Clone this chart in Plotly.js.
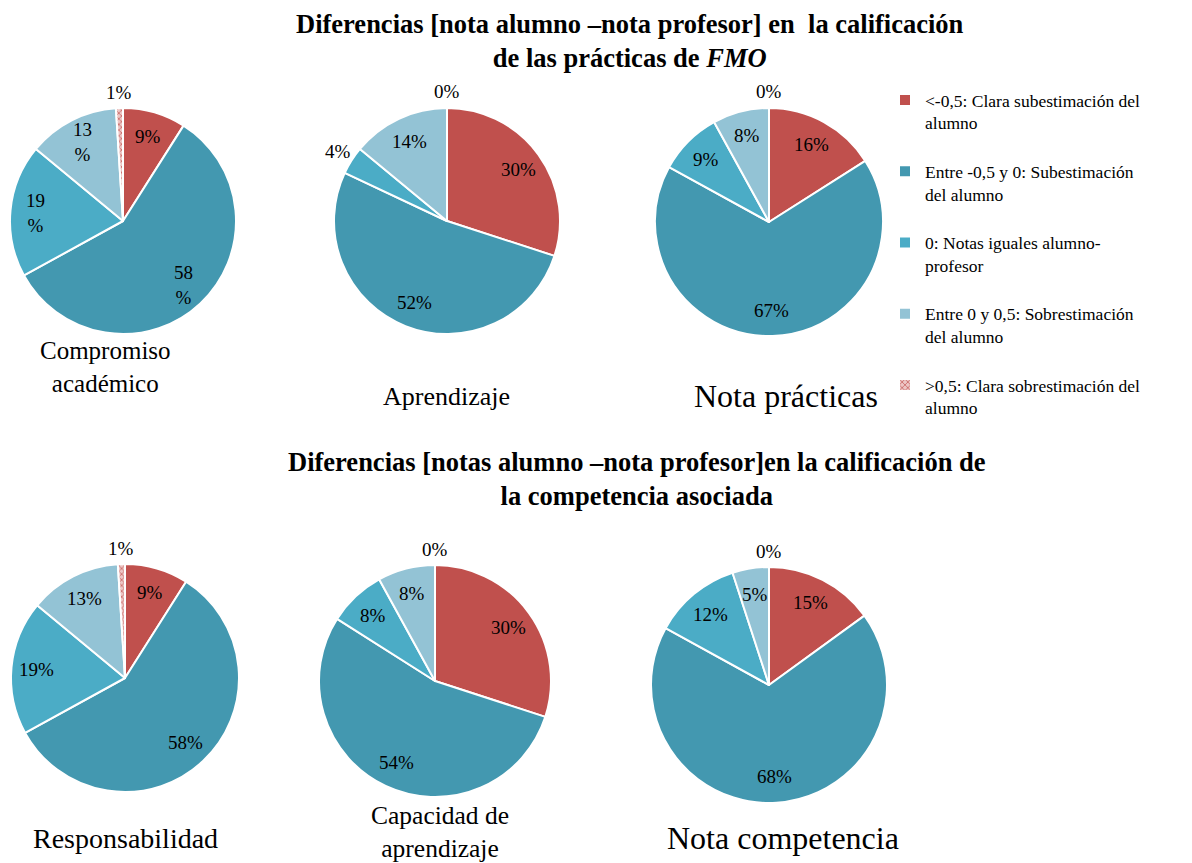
<!DOCTYPE html>
<html>
<head>
<meta charset="utf-8">
<script src="https://cdn.plot.ly/plotly-3.0.1.min.js"></script>
<style>html,body{margin:0;padding:0;background:#fff;}#chart{width:1192px;height:863px;}</style>
</head>
<body>
<div id="chart"></div>
<script>
// ---- data ----
const categories = [
  '&lt;-0,5: Clara subestimación del<br>alumno<br> ',
  'Entre -0,5 y 0: Subestimación<br>del alumno<br> ',
  '0: Notas iguales alumno-<br>profesor<br> ',
  'Entre 0 y 0,5: Sobrestimación<br>del alumno<br> ',
  '&gt;0,5: Clara sobrestimación del<br>alumno'
];
const names = ['Compromiso<br>académico', 'Aprendizaje', 'Nota prácticas',
               'Responsabilidad', 'Capacidad de<br>aprendizaje', 'Nota competencia'];
const compromiso      = [9, 58, 19, 13, 1];
const aprendizaje     = [30, 52, 4, 14, 0];
const notaPracticas   = [16, 67, 9, 8, 0];
const responsabilidad = [9, 58, 19, 13, 1];
const capacidad       = [30, 54, 8, 8, 0];
const notaCompetencia = [15, 68, 12, 5, 0];
const seriesValues = [compromiso, aprendizaje, notaPracticas, responsabilidad, capacidad, notaCompetencia];
const title1 = '<b>Diferencias [nota alumno –nota profesor] en  la calificación<br>de las prácticas de <i>FMO</i></b>';
const title2 = '<b>Diferencias [notas alumno –nota profesor]en la calificación de<br>la competencia asociada</b>';

// ---- styling / layout ----
const W = 1192, H = 863;
const FONT = "'Liberation Serif', 'Times New Roman', serif";
const colors = ['#C0504D', '#4398B0', '#4BACC6', '#93C3D5', '#EDC6C5'];
const geo = [ // cx, cy, r in px
  [123, 221, 113], [447, 221, 113], [769, 222, 114],
  [125, 678, 114], [435, 681, 116], [769, 685, 118]
];
const nameY = [367, 396, 396, 838, 832, 838];
const nameX = [105, 446, 786, 125, 440, 783];
const nameSize = [25, 26, 32, 28, 25.5, 32];
const wrapPct = [[false, true, true, true, false], null, null, null, null, null];

function dom(cx, cy, r) {
  return {x: [(cx - r) / W, (cx + r) / W], y: [1 - (cy + r) / H, 1 - (cy - r) / H]};
}

const traces = [];
const annotations = [];
seriesValues.forEach((vals, i) => {
  const [cx, cy, r] = geo[i];
  traces.push({
    type: 'pie',
    labels: categories,
    values: vals,
    sort: false,
    direction: 'clockwise',
    rotation: 0,
    domain: dom(cx, cy, r),
    legend: i < 3 ? 'legend' : 'legend2',
    textinfo: 'none',
    marker: {
      colors: colors,
      line: {color: '#fff', width: 2},
      pattern: {shape: ['', '', '', '', 'x'], fgcolor: '#C0504D', bgcolor: '#EDC6C5', size: 4, solidity: 0.3}
    },
    hoverinfo: 'label+percent',
    showlegend: true
  });
  // percentage labels, placed like the original (inside end / outside for small slices)
  const total = vals.reduce((a, b) => a + b, 0);
  let cum = 0;
  vals.forEach((v, j) => {
    const mid = (cum + v / 2) / total * 2 * Math.PI;
    cum += v;
    const outside = v < 5;
    const rr = outside ? r + 16 : r * 0.78;
    const px = cx + rr * Math.sin(mid);
    const py = cy - rr * Math.cos(mid);
    const wrap = wrapPct[i] && wrapPct[i][j];
    annotations.push({
      xref: 'paper', yref: 'paper', x: px / W, y: 1 - py / H,
      xanchor: 'center', yanchor: 'middle',
      text: wrap ? (v + '<br>%') : (v + '%'), showarrow: false,
      font: {family: FONT, size: 19, color: '#000'}
    });
  });
  annotations.push({
    xref: 'paper', yref: 'paper', x: nameX[i] / W, y: 1 - nameY[i] / H,
    xanchor: 'center', yanchor: 'middle',
    text: names[i], showarrow: false,
    font: {family: FONT, size: nameSize[i], color: '#000'}
  });
});
annotations.push({xref: 'paper', yref: 'paper', x: 630 / W, y: 1 - 41 / H, text: title1,
  xanchor: 'center', yanchor: 'middle',
  showarrow: false, font: {family: FONT, size: 26.5, color: '#000'}});
annotations.push({xref: 'paper', yref: 'paper', x: 637 / W, y: 1 - 479 / H, text: title2,
  xanchor: 'center', yanchor: 'middle',
  showarrow: false, font: {family: FONT, size: 26.5, color: '#000'}});

const legendBase = {
  font: {family: FONT, size: 17.5, color: '#000'},
  valign: 'top', xanchor: 'left', yanchor: 'top', bgcolor: 'rgba(0,0,0,0)',
  itemclick: false, itemdoubleclick: false
};
const layout = {
  width: W, height: H,
  margin: {l: 0, r: 0, t: 0, b: 0},
  paper_bgcolor: '#fff',
  showlegend: true,
  legend: Object.assign({x: 885 / W, y: 1 - 82 / H}, legendBase),
  legend2: Object.assign({x: 885 / W, y: 1 - 522 / H}, legendBase),
  annotations: annotations,
  font: {family: FONT}
};
Plotly.newPlot('chart', traces, layout, {displayModeBar: false});
</script>
</body>
</html>
